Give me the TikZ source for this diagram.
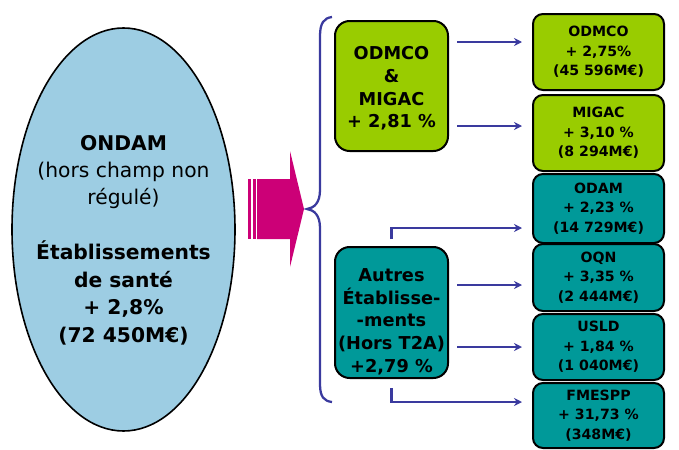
\documentclass[tikz,border=0pt]{standalone}
\usepackage{fontspec}
\setmainfont{DejaVu Sans}
\usetikzlibrary{arrows.meta,shapes.geometric}
\definecolor{ellblue}{HTML}{9DCDE3}
\definecolor{lgreen}{HTML}{99CC00}
\definecolor{tealbox}{HTML}{009999}
\definecolor{mag}{HTML}{CC0077}
\definecolor{navyline}{HTML}{3A3A9E}
\tikzset{
  smallbox/.style={draw=black, line width=1.5pt, rounded corners=7.5pt, minimum width=98.25pt,
    inner sep=0pt, align=center, font=\fontsize{10.6pt}{14.6pt}\selectfont\bfseries},
  midbox/.style={draw=black, line width=1.5pt, rounded corners=11pt, minimum width=84.75pt, inner sep=0pt},
  midtxt/.style={align=center, inner sep=0pt, font=\fontsize{13.3pt}{17pt}\selectfont\bfseries},
  conn/.style={draw=navyline, line width=1.7pt},
  arr/.style={conn, -{Stealth[length=6pt,width=6pt]}, shorten >=7.5pt},
}
\begin{document}
\begin{tikzpicture}[x=0.75pt,y=-0.75pt]
\useasboundingbox (0,0) rectangle (679,450);
% ellipse
\node[ellipse, draw=black, line width=1.2pt, fill=ellblue, minimum width=167.25pt, minimum height=302.25pt, inner sep=0pt] (ondam) at (123.5,229.5) {};
\node[align=center, inner sep=0pt, font=\fontsize{15.2pt}{20.6pt}\selectfont\bfseries] (ondamtxt) at (123.5,240)
  {ONDAM\\\textmd{(hors champ non}\\\textmd{régulé)}\\[20.6pt]Établissements\\de santé\\+ 2,8\%\\(72 450M€)};
% big arrow
\fill[mag] (248,179) rectangle (251,239);
\fill[mag] (252.5,179) rectangle (255.5,239);
\fill[mag] (257,179) -- (290,179) -- (290,151) -- (304,209) -- (290,267) -- (290,239) -- (257,239) -- cycle;
% brace
\draw[conn] (332,17) .. controls (324,18) and (320,23) .. (320,36) -- (320,190)
  .. controls (320,203) and (314,208) .. (307,209)
  .. controls (314,210) and (320,215) .. (320,228) -- (320,384)
  .. controls (320,397) and (324,401) .. (332,402);
% middle boxes
\node[midbox, fill=lgreen, minimum height=97.5pt] (odmig) at (391.5,86) {};
\node[midtxt] (odmigtxt) at (391.5,88.5) {ODMCO\\\&\\MIGAC\\+ 2,81 \%};
\node[midbox, fill=tealbox, minimum height=98.25pt] (aut) at (391.5,312.5) {};
\node[midtxt] (auttxt) at (391.5,321.5) {Autres\\Établisse-\\-ments\\(Hors T2A)\\+2,79 \%};
% small boxes
\node[smallbox, fill=lgreen, minimum height=57pt] (odmco) at (598.5,52) {ODMCO\\+ 2,75\%\\(45 596M€)};
\node[smallbox, fill=lgreen, minimum height=57pt] (migac) at (598.5,133) {MIGAC\\+ 3,10 \%\\(8 294M€)};
\node[smallbox, fill=tealbox, minimum height=51.75pt] (odam) at (598.5,208.5) {ODAM\\+ 2,23 \%\\(14 729M€)};
\node[smallbox, fill=tealbox, minimum height=50.25pt] (oqn) at (598.5,277.5) {OQN\\+ 3,35 \%\\(2 444M€)};
\node[smallbox, fill=tealbox, minimum height=49.5pt] (usld) at (598.5,347) {USLD\\+ 1,84 \%\\(1 040M€)};
\node[smallbox, fill=tealbox, minimum height=48.75pt] (fmespp) at (598.5,415.5) {FMESPP\\+ 31,73 \%\\(348M€)};
% connectors
\coordinate (g1) at (457,42);
\coordinate (g2) at (457,126);
\coordinate (t1) at (392,228);
\coordinate (t2) at (457,285);
\coordinate (t3) at (457,347);
\coordinate (t4) at (392,402);
\draw[arr] (g1) -- (g1 -| odmco.west);
\draw[arr] (g2) -- (g2 -| migac.west);
\draw[arr] ([yshift=5.25pt]aut.north) |- (t1 -| odam.west);
\draw[arr] (t2) -- (t2 -| oqn.west);
\draw[arr] (t3) -- (t3 -| usld.west);
\draw[arr] ([yshift=-6.75pt]aut.south) |- (t4 -| fmespp.west);
\end{tikzpicture}
\end{document}
